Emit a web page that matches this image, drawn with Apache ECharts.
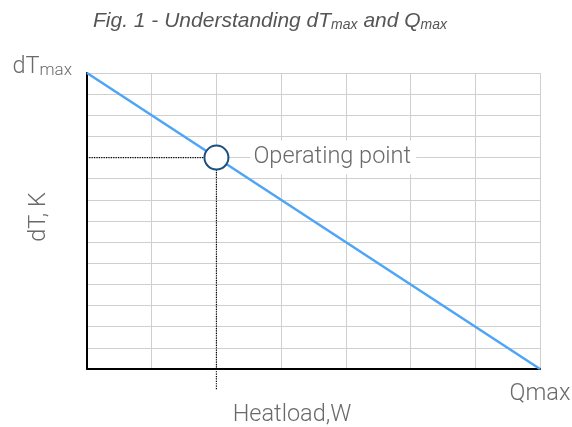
<!DOCTYPE html>
<html>
<head>
<meta charset="utf-8">
<script src="https://cdn.jsdelivr.net/npm/echarts@6/dist/echarts.min.js"></script>
<style>html,body{margin:0;padding:0;background:#fff}#c{width:572px;height:427px}</style>
</head>
<body>
<div id="c"></div>
<script>
// Data
var xMin = 0, xMax = 7;          // heat load axis (grid units, Qmax at end)
var yMin = 0, yMax = 14;         // dT axis (grid units, dTmax at top)
var performanceLine = [[0, 14], [7, 0]];   // dTmax -> Qmax
var operatingPoint = [[2, 10]];
var guideHorizontal = [[-0.3, 10], [2, 10]];
var guideVertical = [[2, 10], [2, -1]];
var xEndLabel = 'Qmax';
var yEndLabel = ['dT', 'max'];
var xName = 'Heatload,W';
var yName = 'dT, K';
var pointLabel = 'Operating point';

var FONT = 'Roboto';
var TXT = '#6a6a6a';
var FS = 23.5;

var chart = echarts.init(document.getElementById('c'), null, {renderer: 'canvas'});
chart.setOption({
  animation: false,
  title: {
    text: '{m|Fig. 1 - Understanding dT}{s|max}{m| and Q}{s|max}',
    left: 88, top: 6,
    textStyle: {
      fontWeight: 'normal',
      rich: {
        m: {fontSize: 21, fontStyle: 'italic', fontWeight: 'normal', fontFamily: 'Liberation Sans', color: '#555', verticalAlign: 'bottom'},
        s: {fontSize: 14, fontStyle: 'italic', fontWeight: 'normal', fontFamily: 'Liberation Sans', color: '#555', verticalAlign: 'bottom'}
      }
    }
  },
  grid: {left: 87, right: 32, top: 73, bottom: 58, containLabel: false, outerBoundsMode: 'none'},
  xAxis: {
    type: 'value', min: xMin, max: xMax, interval: 1,
    axisLine: {show: true, onZero: false, lineStyle: {color: '#000', width: 2}},
    axisTick: {show: false},
    splitLine: {show: true, lineStyle: {color: '#cfcfcf', width: 1}},
    axisLabel: {
      show: true, margin: 13, showMaxLabel: true, hideOverlap: false,
      fontFamily: FONT, fontSize: FS, fontWeight: 300, color: TXT,
      formatter: function (v) { return v === xMax ? xEndLabel : ''; }
    },
    name: xName, nameLocation: 'middle', nameGap: 34, nameMoveOverlap: false,
    nameTextStyle: {fontFamily: FONT, fontSize: FS, fontWeight: 300, color: TXT, padding: [0, 43, 0, 0]}
  },
  yAxis: {
    type: 'value', min: yMin, max: yMax, interval: 1,
    axisLine: {show: true, onZero: false, lineStyle: {color: '#000', width: 2}},
    axisTick: {show: false},
    splitLine: {show: true, lineStyle: {color: '#cfcfcf', width: 1}},
    axisLabel: {
      show: true, margin: 15, showMaxLabel: true, hideOverlap: false,
      formatter: function (v) { return v === yMax ? '{a|' + yEndLabel[0] + '}{b|' + yEndLabel[1] + '}' : ''; },
      rich: {
        a: {fontFamily: FONT, fontSize: FS, fontWeight: 300, color: TXT, verticalAlign: 'bottom', padding: [0, 0, 12, 0]},
        b: {fontFamily: FONT, fontSize: 17, fontWeight: 300, color: TXT, verticalAlign: 'bottom', padding: [0, 0, 12, 0]}
      }
    },
    name: yName, nameLocation: 'middle', nameGap: 36, nameMoveOverlap: false,
    nameTextStyle: {fontFamily: FONT, fontSize: FS, fontWeight: 300, color: TXT, padding: [0, 0, 0, 8]}
  },
  series: [
    {
      type: 'line', data: guideHorizontal, clip: false, symbol: 'none', silent: true, z: 3,
      lineStyle: {color: '#000', width: 1.2, type: [1.2, 1.2]}
    },
    {
      type: 'line', data: guideVertical, clip: false, symbol: 'none', silent: true, z: 3,
      lineStyle: {color: '#000', width: 1.2, type: [1.2, 1.2]}
    },
    {
      type: 'line', data: performanceLine, symbol: 'none', z: 4,
      lineStyle: {color: '#4ea5f6', width: 2.5}
    },
    {
      type: 'scatter', data: operatingPoint, symbol: 'circle', symbolSize: 24, z: 5,
      itemStyle: {color: '#fff', borderColor: '#1b4f7c', borderWidth: 2, opacity: 1},
      label: {
        show: true, position: 'right', distance: 21,
        formatter: pointLabel,
        fontFamily: FONT, fontSize: FS, fontWeight: 300, color: TXT,
        backgroundColor: '#fff', padding: [4, 5, 6, 3]
      }
    }
  ]
});
</script>
</body>
</html>
